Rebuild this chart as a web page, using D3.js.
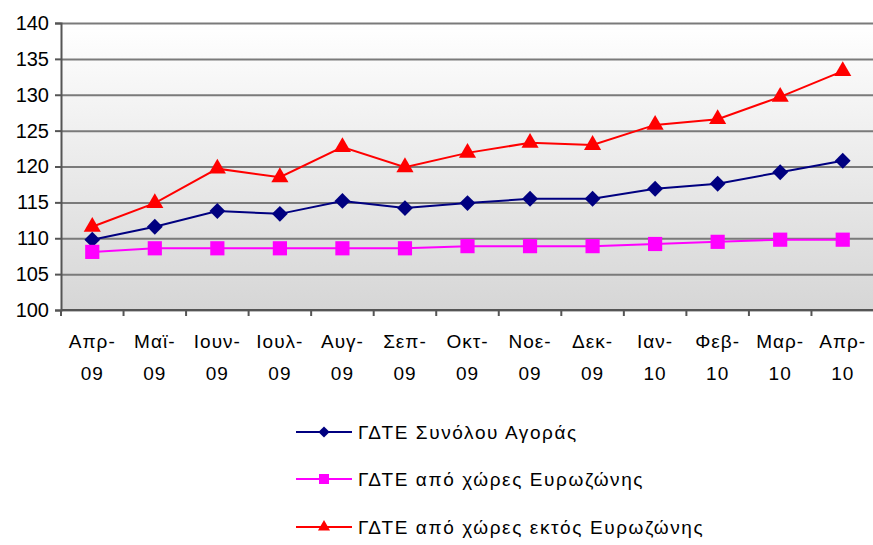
<!DOCTYPE html>
<html>
<head>
<meta charset="utf-8">
<script src="https://cdn.jsdelivr.net/npm/d3@7"></script>
<style>
  body { margin: 0; background: #fff; }
  text { font-family: "Liberation Sans", Arial, sans-serif; fill: #000; }
</style>
</head>
<body>
<svg id="chart" width="873" height="545"></svg>
<script>
var months = ["Απρ-", "Μαϊ-", "Ιουν-", "Ιουλ-", "Αυγ-", "Σεπ-", "Οκτ-", "Νοε-", "Δεκ-", "Ιαν-", "Φεβ-", "Μαρ-", "Απρ-"];
var years = ["09", "09", "09", "09", "09", "09", "09", "09", "09", "10", "10", "10", "10"];
var totalMarket = [109.8, 111.6, 113.8, 113.4, 115.2, 114.2, 114.9, 115.5, 115.5, 116.9, 117.6, 119.2, 120.8];
var euroArea = [108.1, 108.6, 108.6, 108.6, 108.6, 108.6, 108.9, 108.9, 108.9, 109.2, 109.5, 109.8, 109.8];
var nonEuroArea = [111.6, 114.9, 119.7, 118.5, 122.7, 119.9, 121.9, 123.3, 123.0, 125.8, 126.6, 129.7, 133.3];
var yTicks = [100, 105, 110, 115, 120, 125, 130, 135, 140];
var seriesNames = ["ΓΔΤΕ Συνόλου Αγοράς", "ΓΔΤΕ από χώρες Ευρωζώνης", "ΓΔΤΕ από χώρες εκτός Ευρωζώνης"];

var series = [
    {name: seriesNames[0], values: totalMarket, color: "#000080", symbol: d3.symbolDiamond2, size: 160},
    {name: seriesNames[1], values: euroArea, color: "#FF00FF", symbol: d3.symbolSquare2, size: 256},
    {name: seriesNames[2], values: nonEuroArea, color: "#FF0000", symbol: d3.symbolTriangle2, size: 210}
];

var plotLeft = 61, plotRight = 874, plotTop = 23, plotBottom = 310;
var svg = d3.select("#chart");
var labels = months.map(function (m, i) { return i; });

var xScale = d3.scaleBand().domain(labels).range([plotLeft, plotRight]);
var yScale = d3.scaleLinear().domain([100, 140]).range([plotBottom, plotTop]);

// background gradient
var grad = svg.append("defs").append("linearGradient")
    .attr("id", "bg").attr("x1", 0).attr("y1", 0).attr("x2", 0).attr("y2", 1);
grad.append("stop").attr("offset", "0%").attr("stop-color", "#ffffff");
grad.append("stop").attr("offset", "100%").attr("stop-color", "#d6d6d6");

svg.append("rect")
    .attr("x", plotLeft).attr("y", plotTop)
    .attr("width", plotRight - plotLeft).attr("height", plotBottom - plotTop)
    .attr("fill", "url(#bg)");

// gridlines
svg.append("g")
    .attr("class", "grid")
    .attr("transform", "translate(" + plotLeft + ",0)")
    .call(d3.axisLeft(yScale).tickValues(yTicks).tickSize(-(plotRight - plotLeft)).tickFormat(""))
    .call(function (g) { g.select(".domain").remove(); })
    .selectAll("line")
    .attr("stroke", "#7a7a7a")
    .attr("stroke-width", 2);

// y axis
var yAxis = svg.append("g")
    .attr("transform", "translate(" + plotLeft + ",0)")
    .call(d3.axisLeft(yScale).tickValues(yTicks).tickSize(6).tickPadding(6));
yAxis.select(".domain").attr("stroke", "#555").attr("stroke-width", 2);
yAxis.selectAll("line").attr("stroke", "#555").attr("stroke-width", 2);
yAxis.selectAll("text").style("font-size", "20px");

// x axis: ticks at band boundaries
var boundaries = labels.map(function (d) { return xScale(d); }).concat([plotRight]);
svg.append("g").selectAll("line")
    .data(boundaries)
    .enter().append("line")
    .attr("x1", function (d) { return d; })
    .attr("x2", function (d) { return d; })
    .attr("y1", plotBottom)
    .attr("y2", plotBottom + 6)
    .attr("stroke", "#555")
    .attr("stroke-width", 2);
svg.append("line")
    .attr("x1", plotLeft).attr("x2", plotRight)
    .attr("y1", plotBottom).attr("y2", plotBottom)
    .attr("stroke", "#555").attr("stroke-width", 2);

var xLabels = svg.append("g").selectAll("text")
    .data(labels)
    .enter().append("text")
    .attr("text-anchor", "middle")
    .style("font-size", "19px")
    .style("letter-spacing", "1px");
xLabels.append("tspan")
    .attr("x", function (d) { return xScale(d) + xScale.bandwidth() / 2; })
    .attr("y", 348)
    .text(function (d) { return months[d]; });
xLabels.append("tspan")
    .attr("x", function (d) { return xScale(d) + xScale.bandwidth() / 2; })
    .attr("y", 380)
    .text(function (d) { return years[d]; });

// lines and markers
var cx = function (d, i) { return xScale(i) + xScale.bandwidth() / 2; };

series.forEach(function (s) {
    svg.append("path")
        .datum(s.values)
        .attr("fill", "none")
        .attr("stroke", s.color)
        .attr("stroke-width", 2)
        .attr("d", d3.line()
            .x(cx)
            .y(function (d) { return yScale(d); }));

    svg.append("g").selectAll("path")
        .data(s.values)
        .enter().append("path")
        .attr("transform", function (d, i) {
            return "translate(" + cx(d, i) + "," + yScale(d) + ")";
        })
        .attr("d", d3.symbol().type(s.symbol).size(s.size))
        .attr("fill", s.color);
});

// legend
var legendY = [432, 479, 527];
var legend = svg.append("g").selectAll("g")
    .data(series)
    .enter().append("g")
    .attr("transform", function (d, i) { return "translate(296," + legendY[i] + ")"; });
legend.append("line")
    .attr("x1", 0).attr("x2", 56)
    .attr("stroke", function (d) { return d.color; })
    .attr("stroke-width", 2);
legend.append("path")
    .attr("transform", "translate(28,0)")
    .attr("d", function (d) { return d3.symbol().type(d.symbol).size(d.size * 0.5)(); })
    .attr("fill", function (d) { return d.color; });
legend.append("text")
    .attr("x", 62)
    .attr("y", 7)
    .style("font-size", "19px")
    .style("letter-spacing", "1.6px")
    .text(function (d) { return d.name; });
</script>
</body>
</html>
